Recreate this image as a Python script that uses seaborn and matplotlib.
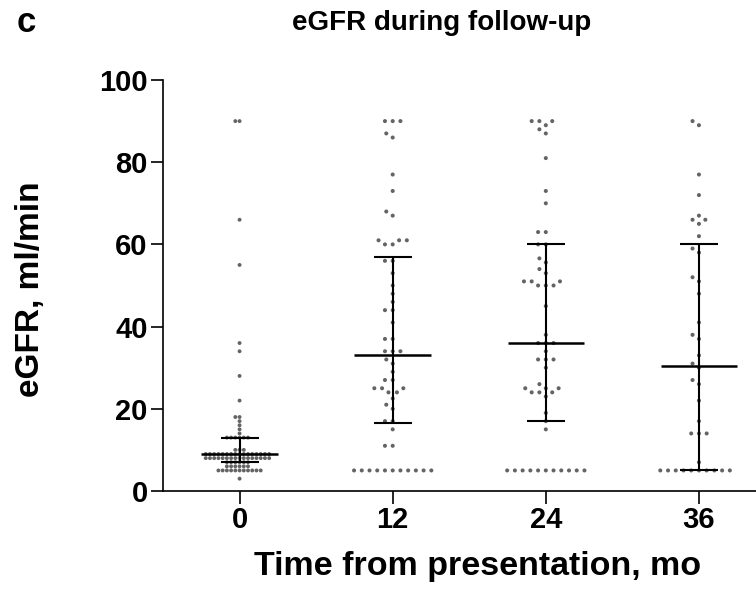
import numpy as np
import pandas as pd
import matplotlib
matplotlib.use("Agg")
import matplotlib.pyplot as plt
import seaborn as sns

categories = ["0", "12", "24", "36"]
egfr_m0 = [90, 90, 66, 55, 36, 34, 28, 22, 18, 18, 17, 16, 15, 14] + [13] * 6 + [10] * 3 \
    + [9] * 16 + [8] * 16 + [7] * 6 + [6] * 6 + [5] * 11 + [3]
egfr_m12 = [90, 90, 90, 87, 86, 77, 73, 68, 67, 61, 61, 61, 60, 60, 56, 56, 53, 50, 48, 46,
            44, 44, 41, 37, 37, 34, 34, 34, 32, 31, 29, 27, 27, 25, 25, 25, 24, 24, 22.5,
            21, 20, 17, 17, 15, 11, 11] + [5] * 11
egfr_m24 = [90, 90, 90, 89, 88, 87, 81, 73, 70, 63, 63, 60, 60, 56.6, 55.6, 54, 53,
            51, 51, 51, 50, 50, 50, 45, 38, 36, 36, 36, 34, 32, 32, 32, 30, 26,
            25, 25, 25, 24, 24, 24, 23, 19, 17, 15] + [5] * 11
egfr_m36 = [90, 89, 77, 72, 67, 66, 66, 65, 62, 59, 58, 52, 51, 48, 41, 38, 37, 33,
            31, 30, 27, 26, 22, 17, 14, 14, 14, 7] + [5] * 10

medians = [9, 33, 36, 30.5]
q1 = [7, 16.5, 17, 5]
q3 = [13, 57, 60, 60]
yticks = [0, 20, 40, 60, 80, 100]

sns.set_theme(style="ticks")
plt.rcParams["font.family"] = ["Liberation Sans", "DejaVu Sans"]
plt.rcParams["font.weight"] = "bold"
plt.rcParams["text.color"] = "black"
plt.rcParams["axes.labelcolor"] = "black"

series = [egfr_m0, egfr_m12, egfr_m24, egfr_m36]
df = pd.DataFrame({
    "time": np.concatenate([[c] * len(v) for c, v in zip(categories, series)]),
    "egfr": np.concatenate([np.asarray(v, dtype=float) for v in series]),
})

fig = plt.figure(figsize=(7.56, 5.95), dpi=100)
ax = fig.add_axes([163 / 756, 1 - 491 / 595, (775.5 - 163) / 756, (491 - 80) / 595])

dot = "#646464"
sns.swarmplot(data=df[df["time"] == "0"], x="time", y="egfr", order=categories,
              color=dot, size=2.8, linewidth=0.1, edgecolor="none", ax=ax)
sns.swarmplot(data=df[df["time"] != "0"], x="time", y="egfr", order=categories,
              color=dot, size=2.9, linewidth=2.4, edgecolor="none", ax=ax)
for coll in ax.collections:
    coll.set_edgecolor("none")

xpos = np.arange(len(categories))
med = np.asarray(medians, float)
ax.errorbar(xpos, med, yerr=[med - np.asarray(q1), np.asarray(q3) - med], fmt="none",
            ecolor="black", elinewidth=1.5, capsize=13.7, capthick=1.5, zorder=5)
ax.hlines(med, xpos - 0.25, xpos + 0.25, colors="black", linewidth=1.8, zorder=6)

ax.set_xlim(-0.5, 3.5)
ax.set_ylim(0, 100)
ax.set_yticks(yticks)
ax.set_xticks(xpos)
ax.set_xticklabels(categories)
for s in ["top", "right"]:
    ax.spines[s].set_visible(False)
for s in ["left", "bottom"]:
    ax.spines[s].set_linewidth(1.2)
    ax.spines[s].set_color("black")
ax.tick_params(axis="both", direction="out", length=9, width=1.2, colors="black",
               labelsize=21, pad=2)
for lab in ax.get_xticklabels() + ax.get_yticklabels():
    lab.set_fontweight("bold")

ax.set_xlabel("Time from presentation, mo", fontsize=24.5, fontweight="bold", color="black")
ax.xaxis.label.set_va("center")
ax.xaxis.set_label_coords(0.514, -(566 - 491) / 411)
ax.set_ylabel("eGFR, ml/min", fontsize=24, fontweight="bold", color="black")
ax.yaxis.set_label_coords(-(163 - 46) / 612.5, 0.49)

fig.text(442 / 756, 1 - 23 / 595, "eGFR during follow-up", ha="center", va="center",
         fontsize=20, fontweight="bold", color="black")
fig.text(17 / 756, 1 - 22 / 595, "c", ha="left", va="center", fontsize=25,
         fontweight="bold", color="black")

fig.savefig("out.png", dpi=100)
